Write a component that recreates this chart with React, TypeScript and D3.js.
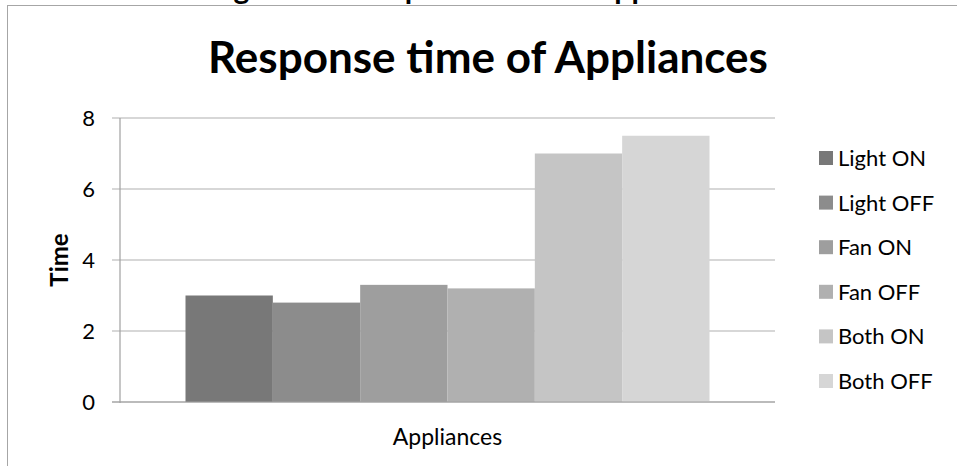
import React from "react";
import * as d3 from "d3";

const categories = ["Appliances"];
const series = ["Light ON", "Light OFF", "Fan ON", "Fan OFF", "Both ON", "Both OFF"];
const values = [3.0, 2.8, 3.3, 3.2, 7.0, 7.5];
const colors = ["#787878", "#8c8c8c", "#9e9e9e", "#b0b0b0", "#c5c5c5", "#d6d6d6"];
const yTicks = [0, 2, 4, 6, 8];

const FONT = "Lato, 'Open Sans', sans-serif";

export default function App() {
  const W = 957, H = 466;
  const plotL = 120, plotR = 775, plotT = 118, plotB = 402;
  const y = d3.scaleLinear().domain([0, 8]).range([plotB, plotT]);
  const xCat = d3.scaleBand<string>().domain(categories).range([plotL, plotR]).paddingInner(0).paddingOuter(0.125);
  const xSer = d3.scaleBand<string>().domain(series).range([0, xCat.bandwidth()]);
  const legendY = d3.scalePoint<string>().domain(series).range([158, 381]);

  return (
    <svg width={W} height={H} style={{ position: "absolute", left: 0, top: 0, background: "#fff" }}>
      <text x={474} y={-1} textAnchor="middle" fontFamily={FONT} fontWeight="bold" fontSize={30} fill="#000">
        Figure 5.2: Response time of Appliances
      </text>
      <rect x={7.5} y={5.5} width={1000} height={1000} fill="#fff" stroke="#a6a6a6" strokeWidth={1} />
      <text x={488} y={73} textAnchor="middle" fontFamily={FONT} fontWeight="bold" fontSize={44} fill="#000">
        Response time of Appliances
      </text>
      {yTicks.map((t) => (
        <g key={t}>
          <line x1={112} x2={plotR} y1={y(t)} y2={y(t)} stroke="#b0b0b0" strokeWidth={1.2} />
          <text x={95} y={y(t)} dy="0.36em" textAnchor="end" fontFamily={FONT} fontSize={22} fill="#000">
            {t}
          </text>
        </g>
      ))}
      {categories.map((c) =>
        series.map((s, i) => (
          <rect
            key={c + s}
            x={(xCat(c) as number) + (xSer(s) as number)}
            y={y(values[i])}
            width={xSer.bandwidth()}
            height={plotB - y(values[i])}
            fill={colors[i]}
          />
        ))
      )}
      <line x1={plotL} x2={plotL} y1={plotT} y2={plotB + 1} stroke="#a0a0a0" strokeWidth={1.2} />
      <line x1={112} x2={plotR} y1={plotB} y2={plotB} stroke="#a0a0a0" strokeWidth={1.2} />
      {categories.map((c) => (
        <text key={c} x={(xCat(c) as number) + xCat.bandwidth() / 2} y={445} textAnchor="middle" fontFamily={FONT} fontSize={23} fill="#000">
          {c}
        </text>
      ))}
      <text transform="translate(68,260) rotate(-90)" textAnchor="middle" fontFamily={FONT} fontWeight="bold" fontSize={24} fill="#000">
        Time
      </text>
      {series.map((s, i) => (
        <g key={s}>
          <rect x={819} y={(legendY(s) as number) - 7} width={14} height={14} fill={colors[i]} />
          <text x={838} y={legendY(s) as number} dy="0.36em" fontFamily={FONT} fontSize={22} fill="#000">
            {s}
          </text>
        </g>
      ))}
    </svg>
  );
}
